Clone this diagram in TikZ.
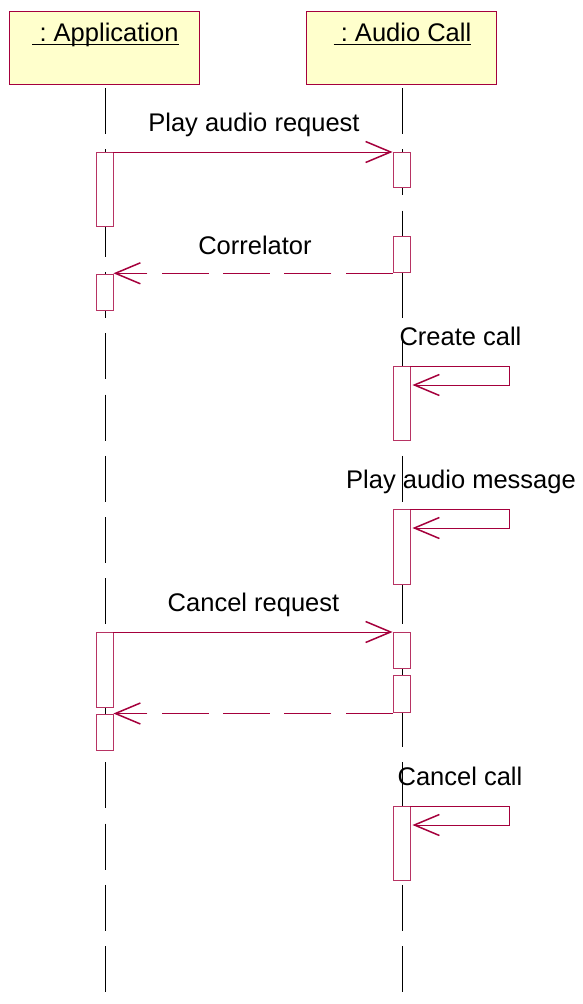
\documentclass[tikz,border=0pt]{standalone}
\usepackage{fontspec}
\setmainfont{Liberation Sans}
\usetikzlibrary{arrows.meta}
\definecolor{umlred}{RGB}{165,0,60}
\definecolor{umlfill}{RGB}{255,255,204}
\begin{document}
\begin{tikzpicture}[x=1pt,y=-1pt,
  obj/.style={draw=umlred, fill=umlfill, line width=1.2pt, minimum width=190pt, minimum height=73pt, inner sep=0pt},
  objlbl/.style={inner sep=0pt, anchor=base, font=\fontsize{25.5}{30}\selectfont},
  lifeline/.style={draw=black, line width=0.9pt, dash pattern=on 46pt off 15.3pt},
  act/.style={draw=umlred!80, fill=white, line width=0.9pt, minimum width=17pt, inner sep=0pt, anchor=north},
  msg/.style={draw=umlred, line width=0.9pt, -{Straight Barb[length=25pt,width=21pt,line width=1.5pt]}},
  ret/.style={msg, dash pattern=on 47pt off 14.3pt},
  lbl/.style={inner sep=0pt, anchor=base, font=\fontsize{25.5}{30}\selectfont}]
\useasboundingbox (0,0) rectangle (583,1004);

% objects
\node[obj] (app) at (104.2,48) {};
\node[obj] (aud) at (401.4,48) {};
\node[objlbl] (applbl) at (105.5,41.7) {\ :\ Application};
\node[objlbl] (audlbl) at (402.5,41.7) {\ :\ Audio Call};
\draw[line width=1.3pt] ([yshift=-2.7pt]applbl.base west) -- ([yshift=-2.7pt]applbl.base east);
\draw[line width=1.3pt] ([yshift=-2.7pt]audlbl.base west) -- ([yshift=-2.7pt]audlbl.base east);

% lifelines
\coordinate (appTop) at (105,88);
\coordinate (appBot) at (105,994);
\coordinate (audTop) at (402,88);
\coordinate (audBot) at (402,994);
\draw[lifeline] (appTop) -- (appBot);
\draw[lifeline] (audTop) -- (audBot);

% activations
\node[act, minimum height=74pt] (a1) at (104.5,152) {};
\node[act, minimum height=36pt] (a2) at (104.5,274) {};
\node[act, minimum height=75pt] (a3) at (104.5,632) {};
\node[act, minimum height=36pt] (a4) at (104.5,714) {};
\node[act, minimum height=35pt] (b1) at (401.5,152) {};
\node[act, minimum height=36pt] (b2) at (401.5,236) {};
\node[act, minimum height=74pt] (b3) at (401.5,366) {};
\node[act, minimum height=75pt] (b4) at (401.5,509) {};
\node[act, minimum height=36pt] (b5) at (401.5,632) {};
\node[act, minimum height=37pt] (b6) at (401.5,675) {};
\node[act, minimum height=74pt] (b7) at (401.5,806) {};

% messages
\coordinate (r1) at (0,273.3);
\coordinate (r2) at (0,713.5);
\draw[msg] (a1.north east) -- (b1.north west);
\draw[ret] (b2.west |- r1) -- (a2.east |- r1);
\draw[msg] (b3.north east) -- ++(99,0) -- ++(0,19) -- ++(-97,0);
\draw[msg] (b4.north east) -- ++(99,0) -- ++(0,19) -- ++(-97,0);
\draw[msg] (a3.north east) -- (b5.north west);
\draw[ret] (b6.west |- r2) -- (a4.east |- r2);
\draw[msg] (b7.north east) -- ++(99,0) -- ++(0,19) -- ++(-97,0);

% labels
\node[lbl] (l1) at (254,131.7) {Play audio request};
\node[lbl] (l2) at (255,254) {Correlator};
\node[lbl] (l3) at (460.5,345) {Create call};
\node[lbl] (l4) at (461,488) {Play audio message};
\node[lbl] (l5) at (253.5,611.7) {Cancel request};
\node[lbl] (l6) at (460,785) {Cancel call};
\end{tikzpicture}
\end{document}
